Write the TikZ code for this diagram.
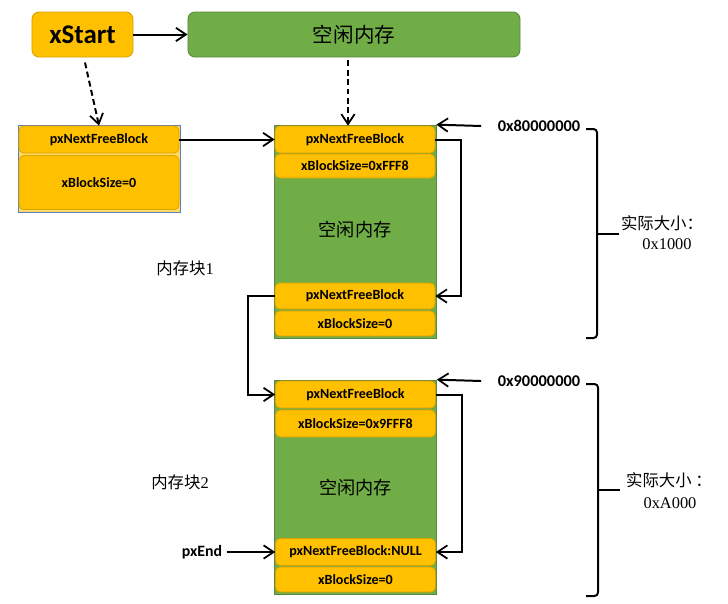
\documentclass[tikz,border=0pt]{standalone}
\usepackage{fontspec}
\setmainfont{Carlito}
\newfontfamily\cjk{Noto Sans CJK SC}
\newfontfamily\numserif{Liberation Serif}
\usetikzlibrary{arrows.meta}

\definecolor{fieldorange}{HTML}{FFC000}
\definecolor{fieldedge}{HTML}{D9A300}
\definecolor{freegreen}{HTML}{70AD47}
\definecolor{freeedge}{HTML}{5A8A3A}
\definecolor{headblue}{HTML}{5B7FC7}

\begin{document}
\begin{tikzpicture}[x=0.03cm, y=-0.03cm, line width=1.7pt,
	link/.style={-{Straight Barb[length=3mm,width=4mm,line width=1.5pt]}},
	dashlink/.style={link, dash pattern=on 5pt off 3pt},
	field/.style={draw=fieldedge, line width=0.6pt, fill=fieldorange, rounded corners=4pt,
		minimum width=4.8cm, inner sep=0pt, font=\fontsize{12}{14}\selectfont\bfseries},
	freeblock/.style={draw=freeedge, line width=0.6pt, fill=freegreen, minimum width=4.86cm, inner sep=0pt},
	addr/.style={font=\fontsize{14}{16}\selectfont\bfseries},
	note/.style={font=\fontsize{14}{16}\selectfont\cjk}]
	\useasboundingbox (0,0) rectangle (728,603);

	% 1. 顶部: xStart 与空闲内存
	\node[draw=fieldedge, line width=0.8pt, fill=fieldorange, rounded corners=6pt, minimum width=3.03cm,
		minimum height=1.35cm, font=\fontsize{23}{25}\selectfont\bfseries] (xstart) at (82.5,34.5) {xStart};
	\node[draw=freeedge, line width=0.8pt, fill=freegreen, rounded corners=6pt, minimum width=9.96cm,
		minimum height=1.35cm, font=\fontsize{17.5}{19}\selectfont\cjk] (topfree) at (354,34.5) {空闲内存};
	\draw[link] (xstart) -- (topfree);

	% 2. xStart 结构体
	\node[draw=headblue, line width=0.8pt, fill=fieldorange!60, minimum width=4.86cm, minimum height=2.61cm,
		inner sep=0pt] (headbox) at (99,168.5) {};
	\node[field, minimum height=0.81cm] (hnext) at (99,139.5) {pxNextFreeBlock};
	\node[field, minimum height=1.62cm] (hsize) at (99,182.5) {xBlockSize=0};
	\draw[dashlink] ([shift={(2.5,5)}]xstart.south) -- (hnext.north);

	% 3. 内存块1
	\node[freeblock, minimum height=6.39cm] (blk1) at (355,231.5) {};
	\node[field, minimum height=0.81cm] (b1next) at (355,139.5) {pxNextFreeBlock};
	\node[field, minimum height=0.72cm] (b1size) at (355,166) {xBlockSize=0xFFF8};
	\node[font=\fontsize{15.5}{17}\selectfont\cjk] (b1free) at (355,230) {空闲内存};
	\node[field, minimum height=0.78cm] (b1tail) at (355,296) {pxNextFreeBlock};
	\node[field, minimum height=0.75cm] (b1tsize) at (355,323.5) {xBlockSize=0};
	\draw[dashlink] ([shift={(-6,3)}]topfree.south) -- ([shift={(-7,0)}]b1next.north);
	\draw[link] (hnext.east) -- (b1next.west);
	\draw[link] (b1next.east) -- ++(26,0) |- (b1tail.east);

	% 4. 内存块2
	\node[freeblock, minimum height=6.42cm] (blk2) at (355.5,487) {};
	\node[field, minimum height=0.81cm] (b2next) at (355.5,394.5) {pxNextFreeBlock};
	\node[field, minimum height=0.81cm] (b2size) at (355.5,423.5) {xBlockSize=0x9FFF8};
	\node[font=\fontsize{15.5}{17}\selectfont\cjk] (b2free) at (355.5,488) {空闲内存};
	\node[field, minimum height=0.81cm] (b2tail) at (355.5,552) {pxNextFreeBlock:NULL};
	\node[field, minimum height=0.75cm] (b2tsize) at (355.5,579.5) {xBlockSize=0};
	\draw[link] (b1tail.west) -- ++(-27,0) |- (b2next.west);
	\draw[link] (b2next.east) -- ++(26,0) |- (b2tail.east);

	% 5. pxEnd
	\node[font=\fontsize{13.5}{15}\selectfont\bfseries] (pxend) at (202,552) {pxEnd};
	\draw[link] (pxend.east) -- (b2tail.west);

	% 6. 块名称
	\node[note] (lbl1) at (185,268) {内存块{\numserif 1}};
	\node[note] (lbl2) at (180,482) {内存块{\numserif 2}};

	% 7. 地址与实际大小
	\node[addr] (addr1) at (539,126) {0x80000000};
	\node[addr] (addr2) at (539,381) {0x90000000};
	\draw[link] ([xshift=-10pt]addr1.west) -- (blk1.north east);
	\draw[link] ([xshift=-10pt]addr2.west) -- (blk2.north east);
	\draw[rounded corners=3pt] (586,129) -- (597,129) -- (597,338) -- (586,338);
	\draw (597,234) -- (619,234);
	\draw[rounded corners=3pt] (586,384) -- (598,384) -- (598,596) -- (586,596);
	\draw (598,490) -- (620,490);
	\node[note] (size1) at (662,223) {实际大小：};
	\node[font=\fontsize{14}{16}\selectfont\numserif] (size1v) at (667,244) {0x1000};
	\node[note] (size2) at (669,480) {实际大小 ：};
	\node[font=\fontsize{14}{16}\selectfont\numserif] (size2v) at (670,503) {0xA000};
\end{tikzpicture}
\end{document}
